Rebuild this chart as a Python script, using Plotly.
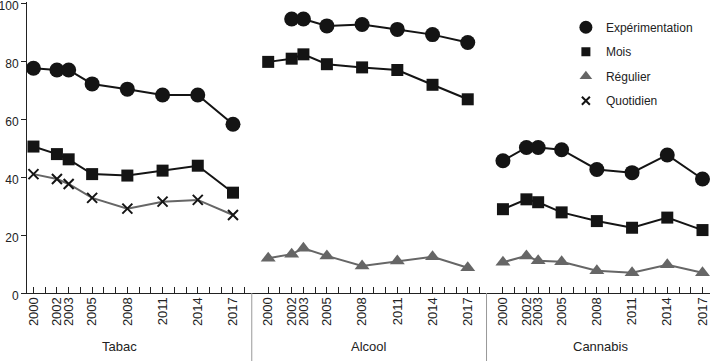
import plotly.graph_objects as go

years = [2000, 2002, 2003, 2005, 2008, 2011, 2014, 2017]
panels = ["Tabac", "Alcool", "Cannabis"]

tabac_exp = [77.5, 76.9, 76.9, 72.1, 70.3, 68.3, 68.3, 58.2]
tabac_mois = [50.5, 47.9, 46.1, 41.0, 40.5, 42.2, 43.9, 34.6]
tabac_quot = [41.0, 39.3, 37.6, 32.8, 29.1, 31.5, 32.1, 26.9]

alcool_exp = [None, 94.5, 94.5, 92.1, 92.6, 90.9, 89.1, 86.4]
alcool_mois = [79.7, 80.8, 82.3, 78.9, 77.8, 76.9, 71.8, 66.8]
alcool_reg = [12.0, 13.4, 15.4, 12.8, 9.3, 11.0, 12.5, 8.7]

cannabis_exp = [45.6, 50.2, 50.2, 49.4, 42.6, 41.5, 47.6, 39.3]
cannabis_mois = [28.9, 32.3, 31.3, 27.8, 24.8, 22.5, 26.0, 21.7]
cannabis_reg = [10.6, 12.8, 11.1, 10.8, 7.7, 7.0, 9.7, 7.0]

y_ticks = [0, 20, 40, 60, 80, 100]

PANEL_SHIFT = 20
FONT = "Liberation Sans, Arial, sans-serif"
BLACK = "#141414"
GRAY = "#666666"
TXT = "#222222"


def pos(k, yr):
    return yr - 2000 + PANEL_SHIFT * k


def series(per_panel):
    xs, ys = [], []
    for k, vals in enumerate(per_panel):
        if vals is None:
            continue
        for yr, v in zip(years, vals):
            xs.append(pos(k, yr))
            ys.append(v)
        xs.append(None)
        ys.append(None)
    return xs, ys


fig = go.Figure()

specs = [
    ("Expérimentation", [tabac_exp, alcool_exp, cannabis_exp], BLACK,
     dict(symbol="circle", size=15, color=BLACK),
     dict(symbol="circle", size=13, color=BLACK)),
    ("Mois", [tabac_mois, alcool_mois, cannabis_mois], BLACK,
     dict(symbol="square", size=12, color=BLACK),
     dict(symbol="square", size=9, color=BLACK)),
    ("Régulier", [None, alcool_reg, cannabis_reg], GRAY,
     dict(symbol="triangle-up", size=13, color=GRAY),
     dict(symbol="triangle-up", size=11, color=GRAY)),
    ("Quotidien", [tabac_quot, None, None], GRAY,
     dict(symbol="x-thin", size=10, color=BLACK, line=dict(color=BLACK, width=2)),
     dict(symbol="x-thin", size=8, color=BLACK, line=dict(color=BLACK, width=2))),
]

for name, data, lc, mk, lmk in specs:
    xs, ys = series(data)
    fig.add_trace(go.Scatter(x=xs, y=ys, mode="lines+markers", name=name,
                             line=dict(color=lc, width=2), marker=mk,
                             showlegend=False, connectgaps=False,
                             hoverinfo="skip"))

for i, (name, data, lc, mk, lmk) in enumerate(specs):
    fig.add_trace(go.Scatter(x=[None], y=[None], mode="markers", name=name,
                             marker=lmk, showlegend=True, legendgroup=str(i)))

tickvals, ticktext = [], []
for k in range(3):
    for yr in range(2000, 2019):
        p = pos(k, yr)
        if p <= 57.6:
            tickvals.append(p)
            ticktext.append(str(yr) if yr in years else "")

fig.update_layout(
    width=710, height=361,
    margin=dict(l=27, r=0, t=2, b=68, autoexpand=False),
    paper_bgcolor="white", plot_bgcolor="white",
    font=dict(family=FONT, size=13, color=TXT),
    legend=dict(x=0.789, y=0.963, xanchor="left", yanchor="top",
                font=dict(size=12, color=TXT), tracegroupgap=5.5,
                bgcolor="rgba(0,0,0,0)", traceorder="grouped",
                itemsizing="trace"),
    xaxis=dict(range=[-0.55, 57.64], showgrid=False, zeroline=False,
               automargin=False,
               showline=True, linecolor=TXT, linewidth=1,
               tickmode="array", tickvals=tickvals, ticktext=ticktext,
               ticks="inside", ticklen=6, tickcolor=TXT, tickwidth=1,
               tickangle=-90, tickfont=dict(size=13, color=TXT),
               ticklabelstandoff=-2),
    yaxis=dict(range=[0, 100.35], showgrid=False, zeroline=False,
               automargin=False, ticklabeloverflow="allow",
               ticklabelshift=3,
               showline=True, linecolor=TXT, linewidth=1,
               tickmode="array", tickvals=y_ticks,
               ticks="outside", ticklen=5, tickcolor=TXT,
               tickfont=dict(size=12, color=TXT)),
)

for sep in [18.6, 38.6]:
    fig.add_shape(type="line", xref="x", yref="paper", x0=sep, x1=sep,
                  y0=0, y1=-0.24, line=dict(color="#999999", width=1))

label_x = [7.3, 28.6, 48.3]
for lx, name in zip(label_x, panels):
    fig.add_annotation(x=lx, y=-0.185, xref="x", yref="paper", text=name,
                       showarrow=False, font=dict(size=13, color=TXT),
                       yanchor="middle")

fig.write_html("out.html", config={"displayModeBar": False},
               post_script="document.body.style.margin='0';document.body.style.padding='0';")
